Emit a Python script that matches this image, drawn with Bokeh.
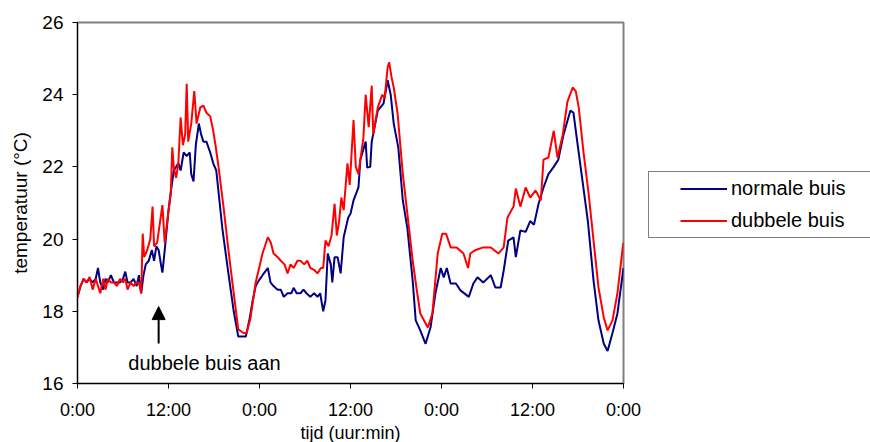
from bokeh.plotting import figure
from bokeh.models import (Range1d, FixedTicker, Legend, LegendItem, Arrow,
                          NormalHead, Label)
from bokeh.embed import file_html
from bokeh.resources import INLINE

# ---- data (hours since start, temperature in deg C) ----
normale_t = [0.0, 0.4, 0.8, 1.2, 1.6, 2.0, 2.4, 2.7, 3.0, 3.4, 3.7, 4.0, 4.4, 4.8,
             5.2, 5.6, 6.0, 6.3, 6.6, 7.0, 7.4, 7.8, 8.1, 8.4, 8.7, 9.0, 9.4, 9.8,
             10.1, 10.4, 10.7, 11.0, 11.2, 11.6, 12.0, 12.3, 12.7, 13.0, 13.3, 13.6,
             14.0, 14.4, 14.8, 15.0, 15.3, 15.6, 16.0, 16.3, 16.6, 17.0, 17.5, 17.9,
             18.3, 18.6, 19.1, 19.8, 20.6, 21.2, 21.9, 22.2, 22.7, 23.1, 23.5, 23.9,
             24.4, 25.1, 25.45, 25.85, 26.4, 26.8, 27.2, 27.7, 28.2, 28.5, 28.9, 29.4,
             29.8, 30.2, 30.7, 31.2, 31.65, 32.0, 32.4, 32.7, 33.0, 33.4, 33.6, 33.9,
             34.3, 34.7, 35.1, 35.7, 36.0, 36.4, 37.05, 37.3, 38.0, 38.2, 38.6, 38.8,
             39.6, 40.35, 40.9, 41.3, 41.7, 42.3, 42.9, 43.5, 44.2, 44.6, 45.2, 45.9,
             46.55, 47.2, 47.9, 48.3, 48.7, 49.2, 49.9, 50.5, 51.6, 52.2, 52.75, 53.5,
             54.5, 55.1, 55.8, 56.2, 56.8, 57.5, 57.8, 58.4, 59.1, 59.7, 60.2, 60.8,
             61.45, 62.1, 62.8, 63.4, 64.1, 65.0, 65.4, 65.9, 66.6, 67.3, 68.05, 68.7,
             69.4, 69.9, 70.55, 71.2, 71.9, 72.0]
normale_v = [18.4, 18.7, 18.9, 18.8, 18.9, 18.8, 18.9, 19.2, 18.8, 18.6, 18.9, 18.8, 19.0, 18.8,
             18.8, 18.8, 18.9, 19.1, 18.8, 18.8, 18.9, 18.7, 19.0, 18.5, 19.0, 19.3, 19.4, 19.7,
             19.4, 19.8, 19.7, 19.3, 19.07, 19.9, 20.8, 21.3, 21.9, 22.0, 22.1, 21.9,
             22.4, 22.3, 22.4, 21.8, 21.6, 22.6, 23.2, 22.9, 22.7, 22.7, 22.4, 22.1,
             21.9, 21.3, 20.3, 19.2, 18.0, 17.3, 17.3, 17.3, 17.8, 18.3, 18.7, 18.85,
             19.0, 19.2, 18.8, 18.7, 18.6, 18.6, 18.4, 18.5, 18.5, 18.65, 18.5, 18.5,
             18.6, 18.5, 18.4, 18.5, 18.4, 18.5, 18.0, 18.3, 19.6, 19.3, 18.8, 19.5,
             19.5, 19.05, 20.05, 20.6, 20.7, 21.07, 21.43, 22.2, 22.7, 21.98, 22.0, 22.7,
             23.56, 23.75, 24.4, 24.0, 23.2, 22.54, 21.07, 20.3, 18.85, 17.75, 17.47, 17.1,
             17.55, 18.5, 19.2, 18.94, 19.2, 18.77, 18.77, 18.58, 18.4, 18.77, 18.94, 18.8,
             19.0, 18.66, 18.66, 19.13, 19.96, 20.05, 19.5, 20.24, 20.2, 20.5, 20.4, 20.98,
             21.43, 21.8, 22.0, 22.2, 22.9, 23.56, 23.5, 22.7, 21.6, 20.5, 18.85, 17.75,
             17.1, 16.9, 17.4, 17.94, 19.05, 19.2]

dubbele_t = [0.0, 0.4, 0.8, 1.2, 1.6, 2.0, 2.4, 2.7, 3.0, 3.4, 3.7, 4.0, 4.4, 4.8,
             5.2, 5.6, 6.0, 6.3, 6.6, 7.0, 7.4, 7.8, 8.1, 8.4, 8.6, 8.8, 9.2, 9.6,
             9.9, 10.1, 10.5, 10.9, 11.2, 11.5, 11.9, 12.3, 12.5, 12.7, 13.0, 13.3,
             13.6, 13.9, 14.2, 14.4, 14.6, 15.0, 15.4, 15.7, 16.2, 16.6, 17.0, 17.5,
             17.9, 18.2, 18.6, 19.25, 19.9, 20.6, 21.2, 21.9, 22.3, 22.8, 23.5, 24.4,
             25.1, 25.5, 25.85, 26.4, 26.8, 27.3, 27.7, 28.1, 28.5, 29.0, 29.4, 29.9,
             30.3, 30.7, 31.2, 31.65, 32.1, 32.4, 32.7, 33.1, 33.5, 33.9, 34.2, 34.5,
             34.8, 35.1, 35.6, 35.9, 36.4, 36.7, 37.05, 37.3, 37.7, 38.0, 38.4, 38.8,
             39.0, 39.6, 40.2, 40.5, 40.9, 41.1, 41.4, 41.7, 42.2, 42.9, 43.5, 44.2,
             44.8, 45.2, 46.2, 46.8, 47.5, 48.1, 48.6, 49.2, 50.0, 50.9, 51.5, 51.8,
             52.5, 53.5, 54.5, 55.5, 56.2, 56.7, 57.5, 57.8, 58.4, 59.1, 59.7, 60.4,
             61.1, 61.45, 62.1, 62.8, 63.3, 64.0, 64.6, 65.3, 65.7, 66.1, 66.7, 67.4,
             68.05, 68.7, 69.4, 69.9, 70.55, 71.2, 71.9, 72.0]
dubbele_v = [18.4, 18.7, 18.9, 18.8, 18.95, 18.6, 18.9, 18.7, 18.5, 18.9, 18.6, 18.9, 18.8, 18.8,
             18.7, 18.9, 18.8, 18.9, 18.6, 18.8, 18.7, 18.8, 18.8, 18.5, 20.15, 19.5, 19.7, 20.0,
             20.9, 19.8, 19.9, 20.5, 20.94, 19.9, 20.6, 21.26, 22.54, 21.98, 21.7, 22.1,
             23.37, 22.6, 22.9, 24.3, 22.7, 23.2, 24.1, 23.2, 23.65, 23.7, 23.5, 23.4,
             23.0, 22.6, 22.0, 20.9, 19.7, 18.5, 17.5, 17.4, 17.4, 17.8, 18.8, 19.6,
             20.05, 19.9, 19.6, 19.5, 19.4, 19.3, 19.05, 19.3, 19.2, 19.4, 19.4, 19.3,
             19.4, 19.2, 19.15, 19.05, 19.2, 19.2, 19.96, 19.8, 20.1, 20.98, 20.1, 20.5,
             21.15, 20.8, 22.1, 21.5, 23.3, 22.0, 21.8, 22.2, 22.8, 24.0, 23.1, 24.25,
             22.9, 23.65, 24.0, 23.9, 24.76, 24.9, 24.5, 24.2, 23.5, 21.8, 20.7, 19.4,
             18.5, 17.94, 17.55, 17.94, 19.6, 20.15, 20.15, 19.77, 19.77, 19.6, 19.2, 19.6,
             19.7, 19.77, 19.77, 19.6, 19.77, 20.6, 20.9, 21.4, 20.9, 21.43, 21.15, 21.35,
             21.07, 22.2, 22.26, 23.0, 22.26, 22.9, 23.8, 24.2, 24.1, 23.65, 22.45, 21.26,
             19.96, 18.66, 17.83, 17.47, 17.75, 18.5, 19.77, 19.9]

x_ticks = [0, 12, 24, 36, 48, 60, 72]
x_tick_labels = ["0:00", "12:00", "0:00", "12:00", "0:00", "12:00", "0:00"]
y_ticks = [16, 18, 20, 22, 24, 26]

FONT = "Liberation Sans"

p = figure(frame_width=546, frame_height=361, output_backend="svg",
           toolbar_location=None,
           x_range=Range1d(0, 72), y_range=Range1d(16, 26),
           min_border_left=77, min_border_right=239, min_border_top=22,
           min_border_bottom=58)
p.background_fill_color = "white"
p.border_fill_color = "white"
p.outline_line_color = "#808080"
p.outline_line_width = 2
p.xgrid.visible = False
p.ygrid.visible = False

for ax in (p.xaxis[0], p.yaxis[0]):
    ax.axis_line_color = "#000000"
    ax.axis_line_width = 1
    ax.major_tick_line_color = "#000000"
    ax.major_tick_in = 0
    ax.major_tick_out = 5
    ax.minor_tick_line_color = None
    ax.major_label_text_font = FONT
    ax.major_label_text_font_size = "18px"
    ax.major_label_text_color = "#000000"
    ax.axis_label_text_font = FONT
    ax.axis_label_text_font_size = "18px"
    ax.axis_label_text_font_style = "normal"
    ax.axis_label_text_color = "#000000"

p.xaxis[0].ticker = FixedTicker(ticks=x_ticks)
p.xaxis[0].major_label_overrides = {t: l for t, l in zip(x_ticks, x_tick_labels)}
p.xaxis[0].axis_label = "tijd (uur:min)"
p.xaxis[0].major_label_standoff = 11
p.xaxis[0].axis_label_standoff = 0
p.yaxis[0].ticker = FixedTicker(ticks=y_ticks)
p.yaxis[0].axis_label = "temperatuur (°C)"
p.yaxis[0].axis_label_text_font_size = "19px"
p.yaxis[0].major_label_text_font_size = "19px"
p.yaxis[0].major_label_standoff = 9
p.yaxis[0].axis_label_standoff = 8

r_norm = p.line(normale_t, normale_v, line_color="#000080", line_width=2)
r_dub = p.line(dubbele_t, dubbele_v, line_color="#FF0000", line_width=2)

# annotation: arrow + label
ARROW_X = 10.7
ARROW_Y0, ARROW_Y1 = 17.11, 18.13
p.add_layout(Arrow(end=NormalHead(size=13, fill_color="black", line_color="black"),
                   x_start=ARROW_X, y_start=ARROW_Y0, x_end=ARROW_X, y_end=ARROW_Y1,
                   line_color="black", line_width=2))
p.add_layout(Label(x=16.75, y=16.58, text="dubbele buis aan", text_align="center",
                   text_baseline="middle", text_font=FONT, text_font_size="20px",
                   text_color="black"))

legend = Legend(items=[LegendItem(label="normale buis", renderers=[r_norm]),
                       LegendItem(label="dubbele buis", renderers=[r_dub])],
                location=(25, 145), orientation="vertical",
                border_line_color="black", border_line_width=1,
                background_fill_color="white", background_fill_alpha=1,
                padding=5, spacing=9, margin=0,
                glyph_width=47, glyph_height=23, label_height=23,
                label_width=140, label_standoff=4, label_text_font=FONT,
                label_text_font_size="20px", label_text_color="black",
                title=" ", title_location="left", title_standoff=8,
                title_text_font_size="16px")
p.add_layout(legend, "right")

open("out.html", "w").write(file_html(p, INLINE))
